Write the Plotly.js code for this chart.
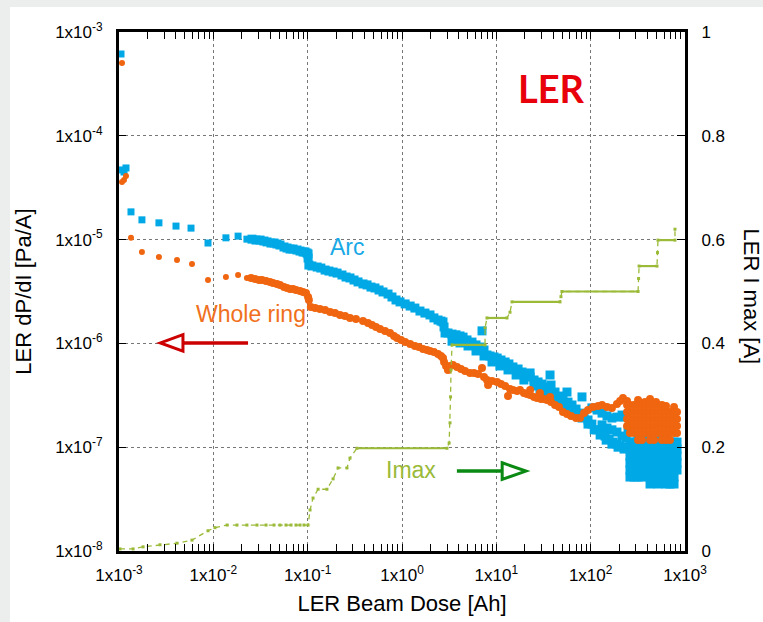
<!DOCTYPE html>
<html>
<head>
<meta charset="utf-8">
<script src="https://cdn.plot.ly/plotly-3.0.1.min.js"></script>
<style>
  html, body { margin: 0; padding: 0; background: #eceeee; width: 763px; height: 622px; overflow: hidden; }
  #chart { position: absolute; left: 10px; top: 7px; width: 753px; height: 615px; background: #fff; }
</style>
</head>
<body>
<div id="chart"></div>
<script>
// ---- Axis ticks ----
const doseTicks = [1e-3, 1e-2, 1e-1, 1, 10, 100, 1000];
const doseTickText = ['1x10<sup>-3</sup>', '1x10<sup>-2</sup>', '1x10<sup>-1</sup>', '1x10<sup>0</sup>', '1x10<sup>1</sup>', '1x10<sup>2</sup>', '1x10<sup>3</sup>'];
const dpTicks = [1e-8, 1e-7, 1e-6, 1e-5, 1e-4, 1e-3];
const dpTickText = ['1x10<sup>-8</sup>', '1x10<sup>-7</sup>', '1x10<sup>-6</sup>', '1x10<sup>-5</sup>', '1x10<sup>-4</sup>', '1x10<sup>-3</sup>'];
const imaxTicks = [0, 0.2, 0.4, 0.6, 0.8, 1];
const imaxTickText = ['0', '0.2', '0.4', '0.6', '0.8', '1'];

// ---- Arc: dP/dI [Pa/A] vs beam dose [Ah] ----
// early, sparse points
const arcEarlyDose = [1.05e-3, 1.076e-3, 1.13e-3, 1.186e-3, 1.34e-3, 1.75e-3, 2.65e-3, 4.02e-3, 5.8e-3, 8.78e-3, 1.36e-2, 1.83e-2, 2.27e-2];
const arcEarlyDPdI = [6.14e-4, 4.69e-5, 4.48e-5, 4.9e-5, 1.85e-5, 1.55e-5, 1.45e-5, 1.35e-5, 1.29e-5, 9.27e-6, 1.04e-5, 1.08e-5, 1.01e-5];
// dense band
const arcDose = [
  2.57e-2, 2.83e-2, 3.13e-2, 3.44e-2, 3.71e-2, 4.08e-2, 4.4e-2, 4.73e-2, 5.09e-2, 5.61e-2, 6.04e-2, 6.5e-2, 7.0e-2,
  7.71e-2, 8.3e-2, 8.93e-2, 9.37e-2, 9.84e-2, 0.101, 0.101, 0.103, 0.111, 0.126, 0.138, 0.153, 0.168, 0.186, 0.205,
  0.231, 0.255, 0.281, 0.31, 0.342, 0.386, 0.426, 0.469, 0.517, 0.571, 0.629, 0.711, 0.783, 0.864, 0.953, 1.08, 1.22,
  1.37, 1.55, 1.75, 1.98, 2.18, 2.41, 2.59, 2.72, 2.79, 2.86, 3.07, 3.39, 3.74, 4.12, 4.44, 4.89, 5.52, 6.09, 6.71,
  7.4, 7.96, 8.57, 9.44, 10.2, 11.2, 12.4, 13.6, 15.0, 17.0, 18.7, 20.6, 22.8, 25.1, 27.7, 30.5, 34.4, 37.1, 38.0,
  41.9, 46.2, 50.9, 56.1, 57.5, 63.4, 70.0, 77.1, 80.9, 85.1, 93.7, 103, 117, 129, 142, 157, 173, 190, 205, 226, 249,
  25.1, 29.0, 33.6, 38.9, 45.1, 52.2, 60.4, 70.0, 80.9, 93.7, 109, 126, 146, 168, 195, 226,
  103, 117, 132, 149, 168, 190, 215, 231, 249,
  132, 149, 168, 190, 215, 237, 22.8, 7.05,
  3.39, 4.12, 5.01, 6.09, 7.4, 9.0, 10.9, 13.3, 16.2, 19.6
];
const arcDPdI = [
  1.01e-5, 9.9e-6, 9.9e-6, 9.69e-6, 9.5e-6, 9.27e-6, 9.27e-6, 9.07e-6, 8.87e-6, 8.49e-6, 8.3e-6, 8.11e-6, 8.11e-6,
  7.94e-6, 7.76e-6, 7.6e-6, 7.6e-6, 7.43e-6, 7.26e-6, 6.65e-6, 5.69e-6, 5.57e-6, 5.44e-6, 5.32e-6, 5.09e-6, 4.98e-6, 4.87e-6, 4.76e-6,
  4.56e-6, 4.36e-6, 4.27e-6, 4.08e-6, 3.91e-6, 3.74e-6, 3.66e-6, 3.49e-6, 3.42e-6, 3.27e-6, 3.13e-6, 2.99e-6, 2.8e-6, 2.62e-6, 2.51e-6, 2.4e-6, 2.29e-6,
  2.19e-6, 2.05e-6, 1.96e-6, 1.88e-6, 1.76e-6, 1.68e-6, 1.64e-6, 1.61e-6, 1.44e-6, 1.26e-6, 1.26e-6, 1.23e-6, 1.21e-6, 1.18e-6, 1.15e-6, 1.08e-6, 1.03e-6, 9.66e-7, 9.23e-7,
  8.64e-7, 7.73e-7, 7.56e-7, 7.4e-7, 7.23e-7, 6.92e-7, 6.62e-7, 6.34e-7, 5.93e-7, 5.67e-7, 5.3e-7, 5.07e-7, 4.74e-7, 4.44e-7, 4.25e-7, 4.06e-7, 3.8e-7, 4.96e-7, 3.97e-7,
  3.4e-7, 3.11e-7, 2.85e-7, 3.4e-7, 2.72e-7, 2.55e-7, 2.33e-7, 2.13e-7, 3.05e-7, 2.0e-7, 1.83e-7, 1.67e-7, 1.47e-7, 1.37e-7, 1.28e-7, 1.2e-7, 1.12e-7, 1.07e-7, 1.03e-7, 1.0e-7, 1.0e-7,
  3.89e-7, 3.64e-7, 3.4e-7, 3.11e-7, 2.85e-7, 2.55e-7, 2.28e-7, 2.09e-7, 1.91e-7, 1.67e-7, 1.47e-7, 1.31e-7, 1.17e-7, 1.07e-7, 1.0e-7, 9.6e-8,
  2.39e-7, 2.28e-7, 2.13e-7, 2.0e-7, 1.91e-7, 1.95e-7, 2.04e-7, 1.95e-7, 1.47e-7,
  1.64e-7, 1.53e-7, 1.47e-7, 1.4e-7, 1.28e-7, 1.23e-7, 5.19e-7, 1.32e-6,
  1.05e-6, 1.01e-6, 9.44e-7, 8.45e-7, 7.56e-7, 6.62e-7, 6.06e-7, 5.55e-7, 4.96e-7, 4.44e-7
];
// Arc: dense scatter at the highest doses
const arcTailDose = [
  261, 261, 261, 261, 261, 261,
  288, 288, 288, 288, 288, 288,
  318, 318, 318, 318, 318, 318, 318,
  350, 350, 350, 350, 350, 350, 350,
  386, 386, 386, 386, 386, 386,
  426, 426, 426, 426, 426, 426, 426, 426,
  470, 470, 470, 470, 470, 470, 470,
  518, 518, 518, 518, 518, 518, 518, 518,
  570, 570, 570, 570, 570, 570, 570,
  629, 629, 629, 629, 629, 629, 629, 629,
  693, 693, 693, 693, 693, 693, 693,
  765, 765, 765, 765, 765, 765, 765,
  823, 823, 823, 823, 823
];
const arcTailDPdI = [
  1.12e-7, 9.6e-8, 8.22e-8, 7.05e-8, 6.03e-8, 5.16e-8,
  1.12e-7, 9.6e-8, 8.22e-8, 7.05e-8, 6.03e-8, 5.16e-8,
  1.31e-7, 1.12e-7, 9.6e-8, 8.22e-8, 7.05e-8, 6.03e-8, 5.16e-8,
  1.31e-7, 1.12e-7, 9.6e-8, 8.22e-8, 7.05e-8, 6.03e-8, 5.16e-8,
  1.31e-7, 1.12e-7, 9.6e-8, 8.22e-8, 7.05e-8, 6.03e-8,
  1.31e-7, 1.12e-7, 9.6e-8, 8.22e-8, 7.05e-8, 6.03e-8, 5.16e-8, 4.42e-8,
  1.31e-7, 1.12e-7, 9.6e-8, 8.22e-8, 7.05e-8, 6.03e-8, 5.16e-8,
  1.31e-7, 1.12e-7, 9.6e-8, 8.22e-8, 7.05e-8, 6.03e-8, 5.16e-8, 4.42e-8,
  1.31e-7, 1.12e-7, 9.6e-8, 8.22e-8, 7.05e-8, 6.03e-8, 5.16e-8,
  1.31e-7, 1.12e-7, 9.6e-8, 8.22e-8, 7.05e-8, 6.03e-8, 5.16e-8, 4.42e-8,
  1.12e-7, 9.6e-8, 8.22e-8, 7.05e-8, 6.03e-8, 5.16e-8, 4.42e-8,
  1.12e-7, 9.6e-8, 8.22e-8, 7.05e-8, 6.03e-8, 5.16e-8, 4.42e-8,
  1.12e-7, 9.6e-8, 8.22e-8, 7.05e-8, 6.03e-8
];

// ---- Whole ring ----
const ringEarlyDose = [1.076e-3, 1.076e-3, 1.13e-3, 1.186e-3, 1.34e-3, 1.75e-3, 2.65e-3, 4.12e-3, 5.94e-3, 8.78e-3, 1.36e-2, 1.83e-2, 2.27e-2];
const ringEarlyDPdI = [5.03e-4, 3.59e-5, 3.75e-5, 4.1e-5, 1.04e-5, 7.6e-6, 6.8e-6, 6.36e-6, 5.82e-6, 4.08e-6, 4.36e-6, 4.56e-6, 4.27e-6];
const ringDose = [
  2.51e-2, 2.77e-2, 3.05e-2, 3.28e-2, 3.62e-2, 3.99e-2, 4.29e-2, 4.73e-2, 5.09e-2, 5.61e-2, 6.04e-2, 6.5e-2, 7.0e-2,
  7.52e-2, 8.3e-2, 8.93e-2, 9.6e-2, 0.101, 0.103, 0.108, 0.12, 0.135, 0.153, 0.173, 0.195, 0.22, 0.249, 0.281, 0.325,
  0.386, 0.436, 0.481, 0.53, 0.585, 0.661, 0.746, 0.823, 0.885, 0.977, 1.08, 1.22, 1.37, 1.51, 1.67, 1.84, 1.98, 2.18,
  2.41, 2.59, 2.72, 2.79, 2.93, 3.07, 3.23, 3.47, 3.83, 4.22, 4.66, 5.26, 5.8, 6.4, 7.05, 7.4, 7.96, 8.17, 9.0, 10.2,
  11.2, 12.4, 13.3, 13.96, 15.0, 16.6, 17.8, 19.6, 21.1, 22.8, 25.1, 27.0, 29.8, 32.0, 34.4, 38.0, 41.9, 46.2, 50.9,
  56.1, 61.9, 70.0, 77.1, 85.1, 93.7, 106, 120, 132, 149, 168, 190, 205, 220, 243,
  22.8, 29.0, 37.1
];
const ringDPdI = [
  4.27e-6, 4.17e-6, 4.08e-6, 4.08e-6, 3.99e-6, 3.91e-6, 3.82e-6, 3.74e-6, 3.66e-6, 3.49e-6, 3.42e-6, 3.34e-6, 3.34e-6,
  3.27e-6, 3.2e-6, 3.13e-6, 3.06e-6, 2.8e-6, 2.62e-6, 2.24e-6, 2.19e-6, 2.14e-6, 2.1e-6, 2.01e-6, 1.96e-6, 1.88e-6, 1.84e-6, 1.76e-6, 1.72e-6,
  1.64e-6, 1.57e-6, 1.5e-6, 1.44e-6, 1.38e-6, 1.32e-6, 1.26e-6, 1.18e-6, 1.13e-6, 1.08e-6, 1.03e-6, 9.87e-7, 9.44e-7, 9.23e-7, 8.83e-7, 8.64e-7, 8.45e-7, 8.26e-7,
  7.91e-7, 7.56e-7, 7.23e-7, 6.62e-7, 6.06e-7, 5.55e-7, 6.06e-7, 6.19e-7, 5.93e-7, 5.67e-7, 5.42e-7, 5.19e-7, 5.19e-7, 5.07e-7, 5.8e-7, 4.74e-7, 4.44e-7, 3.97e-7, 4.34e-7, 4.25e-7,
  4.06e-7, 3.89e-7, 3.11e-7, 3.64e-7, 3.56e-7, 3.48e-7, 3.56e-7, 3.33e-7, 3.25e-7, 3.18e-7, 3.05e-7, 2.98e-7, 2.91e-7, 2.91e-7, 2.85e-7, 2.72e-7, 2.55e-7, 2.44e-7, 2.18e-7,
  2.09e-7, 2.0e-7, 1.91e-7, 1.91e-7, 2.13e-7, 2.28e-7, 2.44e-7, 2.49e-7, 2.55e-7, 2.44e-7, 2.39e-7, 2.61e-7, 2.79e-7, 2.98e-7, 2.79e-7,
  3.56e-7, 3.33e-7, 3.05e-7
];
// Whole ring: dense scatter at the highest doses
const ringTailDose = [
  243, 243, 243, 243,
  261, 261, 261, 261, 261,
  288, 288, 288, 288, 288,
  318, 318, 318, 318, 318, 318, 318,
  350, 350, 350, 350, 350, 350,
  377, 386, 386, 386, 386, 386,
  426, 426, 426, 426, 426, 426, 426,
  470, 470, 470, 470, 470, 470,
  493, 518, 518, 518, 518, 518,
  570, 570, 570, 570, 570, 570,
  629, 629, 629, 629, 629, 629,
  693, 693, 693, 693, 693,
  765, 765, 765, 765, 765,
  823, 823, 823, 823
];
const ringTailDPdI = [
  2.55e-7, 2.18e-7, 1.87e-7, 1.6e-7,
  2.55e-7, 2.18e-7, 1.87e-7, 1.6e-7, 1.37e-7,
  2.55e-7, 2.18e-7, 1.87e-7, 1.6e-7, 1.37e-7,
  2.85e-7, 2.55e-7, 2.18e-7, 1.87e-7, 1.6e-7, 1.37e-7, 1.17e-7,
  2.55e-7, 2.18e-7, 1.87e-7, 1.6e-7, 1.37e-7, 1.17e-7,
  2.72e-7, 2.55e-7, 2.18e-7, 1.87e-7, 1.6e-7, 1.37e-7,
  2.91e-7, 2.55e-7, 2.18e-7, 1.87e-7, 1.6e-7, 1.37e-7, 1.17e-7,
  2.55e-7, 2.18e-7, 1.87e-7, 1.6e-7, 1.37e-7, 1.17e-7,
  2.72e-7, 2.55e-7, 2.18e-7, 1.87e-7, 1.6e-7, 1.37e-7,
  2.55e-7, 2.18e-7, 1.87e-7, 1.6e-7, 1.37e-7, 1.17e-7,
  2.49e-7, 2.18e-7, 1.87e-7, 1.6e-7, 1.37e-7, 1.17e-7,
  2.18e-7, 1.87e-7, 1.6e-7, 1.37e-7, 1.17e-7,
  2.44e-7, 2.18e-7, 1.87e-7, 1.6e-7, 1.37e-7,
  2.18e-7, 1.87e-7, 1.6e-7, 1.37e-7
];

// ---- Imax [A] vs beam dose [Ah] ----
const imaxDose = [
  1.025e-3, 1.41e-3, 1.8e-3, 2.72e-3, 4.12e-3, 5.94e-3, 8.78e-3, 1.04e-2, 1.4e-2, 1.78e-2, 2.27e-2, 2.9e-2, 3.62e-2,
  4.4e-2, 5.09e-2, 5.89e-2, 6.66e-2, 7.52e-2, 8.3e-2, 9.14e-2, 0.101, 0.106, 0.114, 0.129, 0.16, 0.186, 0.21, 0.261,
  0.281, 0.333, 3.0, 3.16, 3.23, 3.27, 3.31, 3.39, 7.59, 7.6, 7.96, 12.97, 13.96, 14.66, 47.3, 48.4, 49.6, 318, 322,
  326, 505, 511, 517, 783, 783
];
const imaxCurrent = [
  0.004, 0.004, 0.008, 0.012, 0.015, 0.021, 0.039, 0.045, 0.05, 0.05, 0.05, 0.05, 0.05,
  0.05, 0.05, 0.05, 0.05, 0.05, 0.05, 0.05, 0.05, 0.079, 0.102, 0.119, 0.119, 0.139, 0.16, 0.16,
  0.179, 0.198, 0.198, 0.208, 0.247, 0.297, 0.349, 0.397, 0.397, 0.43, 0.449, 0.449, 0.46, 0.48, 0.48, 0.49, 0.5, 0.5, 0.525,
  0.549, 0.549, 0.575, 0.599, 0.599, 0.62
];
// Imax plateaus (solid segments)
const plateauStart = [0.333, 3.39, 7.96, 14.66, 49.6, 326, 517];
const plateauEnd = [3.0, 7.59, 12.97, 47.3, 318, 505, 783];
const plateauLevel = [0.198, 0.397, 0.449, 0.48, 0.5, 0.549, 0.599];

// ---- build ----
const BLUE = '#00a9e6', ORANGE = '#f0650f', GREEN = '#9aba38';
const platX = [], platY = [];
plateauStart.forEach((s, i) => { platX.push(s, plateauEnd[i], null); platY.push(plateauLevel[i], plateauLevel[i], null); });

const traces = [
  { x: arcEarlyDose, y: arcEarlyDPdI, type: 'scatter', mode: 'markers', name: 'Arc',
    marker: { symbol: 'square', size: 7, color: BLUE }, hoverinfo: 'skip' },
  { x: arcDose.concat(arcTailDose), y: arcDPdI.concat(arcTailDPdI), type: 'scatter', mode: 'markers', name: 'Arc (dense)',
    marker: { symbol: 'square', size: 9, color: BLUE }, hoverinfo: 'skip' },
  { x: ringEarlyDose, y: ringEarlyDPdI, type: 'scatter', mode: 'markers', name: 'Whole ring',
    marker: { symbol: 'circle', size: 6, color: ORANGE }, hoverinfo: 'skip' },
  { x: ringDose.concat(ringTailDose), y: ringDPdI.concat(ringTailDPdI), type: 'scatter', mode: 'markers', name: 'Whole ring (dense)',
    marker: { symbol: 'circle', size: 8, color: ORANGE }, hoverinfo: 'skip' },
  { x: imaxDose, y: imaxCurrent, yaxis: 'y2', type: 'scatter', mode: 'lines+markers', name: 'Imax',
    line: { color: GREEN, width: 1.3, dash: '5px,4px' }, marker: { symbol: 'square', size: 3, color: GREEN }, hoverinfo: 'skip' },
  { x: platX, y: platY, yaxis: 'y2', type: 'scatter', mode: 'lines', name: 'Imax plateau',
    line: { color: GREEN, width: 2.2 }, connectgaps: false, hoverinfo: 'skip' }
];

const FONT = 'Liberation Sans, Arial, sans-serif';
const layout = {
  width: 753, height: 615,
  margin: { l: 109, r: 78, t: 25, b: 71, pad: 0 },
  paper_bgcolor: '#ffffff', plot_bgcolor: '#ffffff',
  showlegend: false,
  font: { family: FONT, size: 17, color: '#000' },
  xaxis: {
    type: 'log', range: [-3, 3], tickmode: 'array', tickvals: doseTicks, ticktext: doseTickText,
    ticks: 'inside', ticklen: 7, tickwidth: 1, tickcolor: '#000', ticklabelstandoff: 7,
    showline: true, linewidth: 3, linecolor: '#000', mirror: 'allticks',
    showgrid: true, gridcolor: '#777', gridwidth: 1, griddash: 'dot', zeroline: false,
    minor: { ticks: 'inside', ticklen: 4, tickwidth: 1, tickcolor: '#000', dtick: 'D1', showgrid: false },
    tickfont: { size: 17, family: FONT },
    title: { text: 'LER Beam Dose [Ah]', font: { size: 22, family: FONT }, standoff: 12 }
  },
  yaxis: {
    type: 'log', range: [-8, -3], tickmode: 'array', tickvals: dpTicks, ticktext: dpTickText,
    ticks: 'inside', ticklen: 7, tickwidth: 1, tickcolor: '#000', ticklabelstandoff: 10,
    showline: true, linewidth: 3, linecolor: '#000', mirror: false,
    showgrid: true, gridcolor: '#777', gridwidth: 1, griddash: 'dot', zeroline: false,
    tickfont: { size: 17, family: FONT },
    title: { text: 'LER dP/dI [Pa/A]', font: { size: 22, family: FONT }, standoff: 18 }
  },
  yaxis2: {
    overlaying: 'y', side: 'right', range: [0, 1], tickmode: 'array', tickvals: imaxTicks, ticktext: imaxTickText,
    ticks: 'inside', ticklen: 8, tickwidth: 1, tickcolor: '#000', ticklabelstandoff: 10,
    showline: true, linewidth: 3, linecolor: '#000', showgrid: false, zeroline: false,
    tickfont: { size: 17, family: FONT }
  },
  annotations: [
    { text: 'LER I max [A]', xref: 'paper', yref: 'paper', x: 1.117, y: 0.49, textangle: 90, showarrow: false,
      font: { size: 22, family: FONT, color: '#000' }, xanchor: 'center', yanchor: 'middle' },
    { text: '<b>LER</b>', xref: 'paper', yref: 'paper', x: 0.765, y: 0.892, showarrow: false,
      font: { size: 38, family: 'Lato, Liberation Sans, sans-serif', color: '#e8000b' }, xanchor: 'center', yanchor: 'middle' },
    { text: 'Arc', xref: 'paper', yref: 'paper', x: 0.403, y: 0.586, showarrow: false,
      font: { size: 23, family: FONT, color: '#19a9e6' }, xanchor: 'center', yanchor: 'middle' },
    { text: 'Whole ring', xref: 'paper', yref: 'paper', x: 0.233, y: 0.457, showarrow: false,
      font: { size: 23, family: FONT, color: '#f07020' }, xanchor: 'center', yanchor: 'middle' },
    { text: 'Imax', xref: 'paper', yref: 'paper', x: 0.516, y: 0.156, showarrow: false,
      font: { size: 23, family: FONT, color: '#9aba38' }, xanchor: 'center', yanchor: 'middle' }
  ],
  shapes: [
    { type: 'line', xref: 'paper', yref: 'paper', x0: 0.228, x1: 0.113, y0: 0.401, y1: 0.401,
      line: { color: '#cc0000', width: 3.5 } },
    { type: 'path', xref: 'paper', yref: 'paper', path: 'M 0.113 0.417 L 0.073 0.401 L 0.113 0.385 Z',
      line: { color: '#cc0000', width: 3 }, fillcolor: '#ffffff' },
    { type: 'line', xref: 'paper', yref: 'paper', x0: 0.597, x1: 0.677, y0: 0.154, y1: 0.154,
      line: { color: '#0a8a12', width: 3.5 } },
    { type: 'path', xref: 'paper', yref: 'paper', path: 'M 0.677 0.170 L 0.719 0.154 L 0.677 0.138 Z',
      line: { color: '#0a8a12', width: 3 }, fillcolor: '#ffffff' }
  ]
};

Plotly.newPlot('chart', traces, layout, { staticPlot: true, displayModeBar: false });
</script>
</body>
</html>
